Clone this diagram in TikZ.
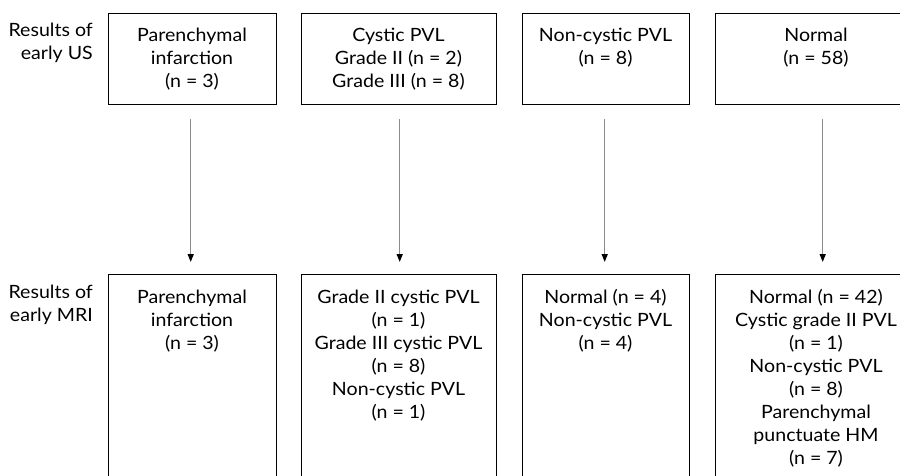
\documentclass[tikz,border=0pt]{standalone}
\usepackage{fontspec}
\setmainfont[FakeStretch=1.07]{Lato}
\usetikzlibrary{arrows.meta}
\newcommand{\ctab}[1]{\begin{tabular}[t]{@{}c@{}}#1\end{tabular}}
\newcommand{\rtab}[1]{\begin{tabular}[t]{@{}r@{}}#1\end{tabular}}
\begin{document}
\begin{tikzpicture}[x=1pt,y=-1pt,
  box/.style={draw=black,line width=1.4pt,rectangle,inner sep=0pt,anchor=north west},
  txt/.style={inner sep=0pt,anchor=base,font=\fontsize{18.3}{23}\selectfont},
  side/.style={inner sep=0pt,anchor=base east,font=\fontsize{18.3}{23}\selectfont},
  arr/.style={draw=gray!90,line width=1.5pt,-{Triangle[length=8pt,width=6pt,black]}}]
\useasboundingbox (0,0) rectangle (900,476);
\clip (0,0) rectangle (900,476);
% top boxes
\node[box,minimum width=168pt,minimum height=91pt] (a1) at (108,13) {};
\node[box,minimum width=195pt,minimum height=91pt] (a2) at (301,13) {};
\node[box,minimum width=167pt,minimum height=91pt] (a3) at (522,13) {};
\node[box,minimum width=200pt,minimum height=91pt] (a4) at (715,13) {};
% bottom boxes
\node[box,minimum width=168pt,minimum height=220pt] (b1) at (108,274) {};
\node[box,minimum width=195pt,minimum height=220pt] (b2) at (301,274) {};
\node[box,minimum width=167pt,minimum height=220pt] (b3) at (522,274) {};
\node[box,minimum width=200pt,minimum height=220pt] (b4) at (715,274) {};
% side labels
\node[side] (lu) at (93,37) {\rtab{Results of\\early US}};
\node[side] (lm) at (93,298) {\rtab{Results of\\early MRI}};
% top texts
\node[txt] (ta1) at (192,42) {\ctab{Parenchymal\\infarction\\(n = 3)}};
\node[txt] (ta2) at (398.5,42) {\ctab{Cystic PVL\\Grade II (n = 2)\\Grade III (n = 8)}};
\node[txt] (ta3) at (605.5,42) {\ctab{Non-cystic PVL\\(n = 8)}};
\node[txt] (ta4) at (816,42) {\ctab{Normal\\(n = 58)}};
% bottom texts
\node[txt] (tb1) at (192,303) {\ctab{Parenchymal\\infarction\\(n = 3)}};
\node[txt] (tb2) at (398.5,303) {\ctab{Grade II cystic PVL\\(n = 1)\\Grade III cystic PVL\\(n = 8)\\Non-cystic PVL\\(n = 1)}};
\node[txt] (tb3) at (605.5,303) {\ctab{Normal (n = 4)\\Non-cystic PVL\\(n = 4)}};
\node[txt] (tb4) at (816,303) {\ctab{Normal (n = 42)\\Cystic grade II PVL\\(n = 1)\\Non-cystic PVL\\(n = 8)\\Parenchymal\\punctuate HM\\(n = 7)}};
% arrows
\draw[arr] ([xshift=-2pt,yshift=-14pt]a1.south) -- ([xshift=-2pt,yshift=12pt]b1.north);
\draw[arr] ([xshift=0.5pt,yshift=-14pt]a2.south) -- ([xshift=0.5pt,yshift=12pt]b2.north);
\draw[arr] ([xshift=-1.5pt,yshift=-14pt]a3.south) -- ([xshift=-1.5pt,yshift=12pt]b3.north);
\draw[arr] ([xshift=7pt,yshift=-14pt]a4.south) -- ([xshift=7pt,yshift=12pt]b4.north);
\end{tikzpicture}
\end{document}
